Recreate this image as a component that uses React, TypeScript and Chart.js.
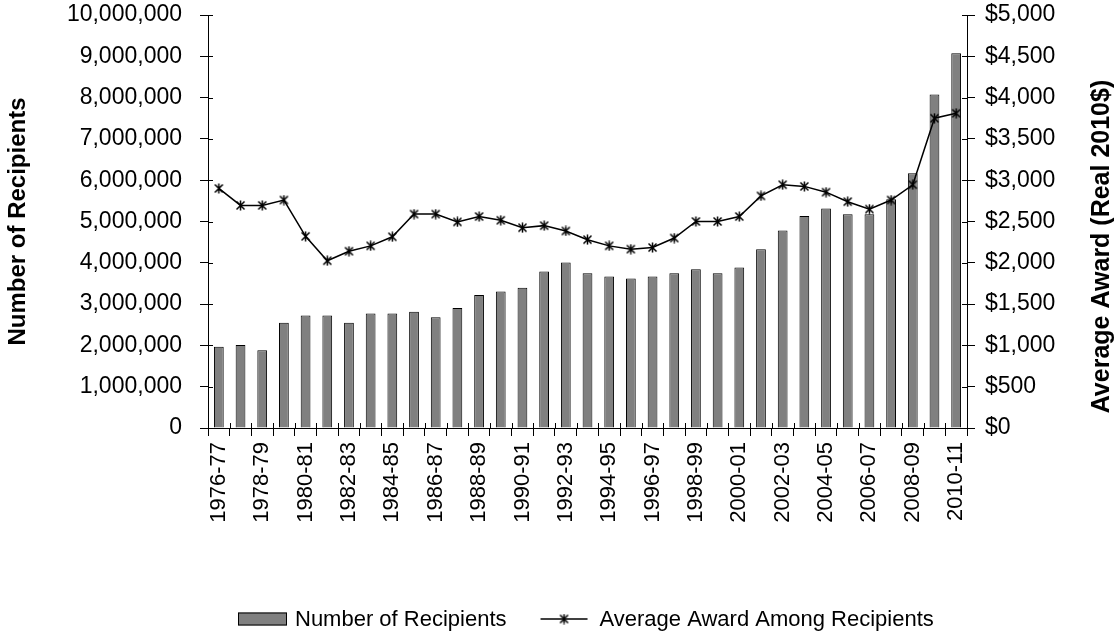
import React, { useEffect, useRef } from 'react';
import { Chart, registerables } from 'chart.js';

Chart.register(...registerables);

const categories = [
  '1976-77', '1977-78', '1978-79', '1979-80', '1980-81', '1981-82', '1982-83',
  '1983-84', '1984-85', '1985-86', '1986-87', '1987-88', '1988-89', '1989-90',
  '1990-91', '1991-92', '1992-93', '1993-94', '1994-95', '1995-96', '1996-97',
  '1997-98', '1998-99', '1999-00', '2000-01', '2001-02', '2002-03', '2003-04',
  '2004-05', '2005-06', '2006-07', '2007-08', '2008-09', '2009-10', '2010-11',
];

const recipients = [
  1970000, 2010000, 1880000, 2550000, 2725000, 2725000, 2550000, 2775000, 2775000, 2815000,
  2680000, 2905000, 3220000, 3305000, 3395000, 3790000, 4010000, 3750000, 3670000, 3620000,
  3670000, 3750000, 3845000, 3750000, 3885000, 4330000, 4780000, 5135000, 5315000, 5175000,
  5175000, 5540000, 6170000, 8075000, 9075000,
];

const averageAward = [
  2900, 2695, 2695, 2760, 2320, 2025, 2140, 2205, 2315, 2590,
  2590, 2495, 2560, 2515, 2425, 2450, 2385, 2280, 2205, 2165,
  2185, 2300, 2500, 2500, 2560, 2810, 2945, 2925, 2855, 2740,
  2650, 2760, 2945, 3750, 3810,
];

const leftAxisTitle = 'Number of Recipients';
const rightAxisTitle = 'Average Award (Real 2010$)';
const barLabel = 'Number of Recipients';
const lineLabel = 'Average Award Among Recipients';

const FONT = 'Liberation Sans, Arial, sans-serif';
const FS = 22;
const TICK_FS = 23;

function makeStar(size: number, lw: number) {
  const c = document.createElement('canvas');
  c.width = size;
  c.height = size;
  const ctx = c.getContext('2d')!;
  ctx.strokeStyle = '#000';
  ctx.lineWidth = lw;
  const m = size / 2;
  const a = 1.5;
  ctx.beginPath();
  ctx.moveTo(m, 0.5);
  ctx.lineTo(m, size - 0.5);
  ctx.moveTo(a, a);
  ctx.lineTo(size - a, size - a);
  ctx.moveTo(size - a, a);
  ctx.lineTo(a, size - a);
  ctx.stroke();
  return c;
}

const rightTitlePlugin = {
  id: 'rightTitle',
  afterDraw(chart: any) {
    const s = chart.scales.y1;
    const ctx = chart.ctx;
    ctx.save();
    ctx.translate(s.right - 18, (s.top + s.bottom) / 2 + 25);
    ctx.rotate(-Math.PI / 2);
    ctx.font = `bold 25px ${FONT}`;
    ctx.fillStyle = '#000';
    ctx.textAlign = 'center';
    ctx.textBaseline = 'middle';
    ctx.fillText(rightAxisTitle, 0, 0);
    ctx.restore();
  },
};

// inner halves of the tick marks (the reference ticks cross the axis lines)
const crossTicksPlugin = {
  id: 'crossTicks',
  beforeDatasetsDraw(chart: any) {
    const ctx = chart.ctx;
    const { y, y1, x } = chart.scales;
    const inner = 5;
    ctx.save();
    ctx.strokeStyle = '#000';
    ctx.lineWidth = 1;
    ctx.beginPath();
    y.ticks.forEach((t: any) => {
      const py = Math.round(y.getPixelForValue(t.value)) + 0.5;
      ctx.moveTo(y.right, py);
      ctx.lineTo(y.right + inner, py);
    });
    y1.ticks.forEach((t: any) => {
      const py = Math.round(y1.getPixelForValue(t.value)) + 0.5;
      ctx.moveTo(y1.left - inner, py);
      ctx.lineTo(y1.left, py);
    });
    const n = categories.length;
    const half = (x.getPixelForValue(1) - x.getPixelForValue(0)) / 2;
    for (let i = 0; i <= n; i++) {
      const px = Math.round(x.getPixelForValue(Math.min(i, n - 1)) + (i === n ? half : -half)) + 0.5;
      ctx.moveTo(px, x.top - inner);
      ctx.lineTo(px, x.top);
    }
    ctx.stroke();
    ctx.restore();
  },
};

const legendPlugin = {
  id: 'customLegend',
  afterDraw(chart: any) {
    const ctx = chart.ctx;
    const bar = chart.data.datasets[1];
    const line = chart.data.datasets[0];
    const cy = chart.height - 17;
    let x = chart.chartArea.left + 30;
    ctx.save();
    ctx.font = `${FS}px ${FONT}`;
    ctx.textBaseline = 'middle';
    ctx.textAlign = 'left';
    ctx.fillStyle = bar.backgroundColor;
    ctx.fillRect(x, cy - 6.5, 49, 13);
    ctx.strokeStyle = bar.borderColor;
    ctx.lineWidth = 1;
    ctx.strokeRect(x + 0.5, cy - 6, 48, 12);
    x += 57;
    ctx.fillStyle = '#000';
    ctx.fillText(bar.label, x, cy + 1);
    x += ctx.measureText(bar.label).width + 34;
    ctx.strokeStyle = line.borderColor;
    ctx.lineWidth = line.borderWidth;
    ctx.beginPath();
    ctx.moveTo(x, cy);
    ctx.lineTo(x + 47, cy);
    ctx.stroke();
    const st = line.pointStyle;
    ctx.drawImage(st, x + 23.5 - st.width / 2, cy - st.height / 2);
    x += 59;
    ctx.fillStyle = '#000';
    ctx.fillText(line.label, x, cy + 1);
    ctx.restore();
  },
};

export default function App() {
  const ref = useRef<HTMLCanvasElement>(null);

  useEffect(() => {
    if (!ref.current) return;
    Chart.defaults.font.family = FONT;
    Chart.defaults.color = '#000';
    const star = makeStar(11, 1.5);
    const gridCommon = { drawOnChartArea: false, color: '#000', tickLength: 8, lineWidth: 1 };

    const chart = new Chart(ref.current, {
      type: 'bar',
      data: {
        labels: categories,
        datasets: [
          {
            type: 'line',
            label: lineLabel,
            data: averageAward,
            yAxisID: 'y1',
            borderColor: '#000',
            backgroundColor: '#000',
            borderWidth: 1.5,
            pointStyle: star as any,
            pointRadius: 5,
            tension: 0,
            order: 0,
          } as any,
          {
            type: 'bar',
            label: barLabel,
            data: recipients,
            yAxisID: 'y',
            backgroundColor: '#808080',
            borderColor: '#000',
            borderWidth: 1,
            barPercentage: 0.45,
            categoryPercentage: 1,
            order: 1,
          },
        ],
      },
      options: {
        animation: false,
        responsive: false,
        maintainAspectRatio: false,
        layout: { padding: { top: 15, left: 0, right: 0, bottom: 0 } },
        plugins: {
          legend: { display: false },
          tooltip: { enabled: false },
        },
        scales: {
          x: {
            grid: { ...gridCommon, offset: true },
            border: { color: '#000', width: 1 },
            ticks: {
              autoSkip: false,
              minRotation: 90,
              maxRotation: 90,
              padding: 6,
              color: '#000',
              font: { size: FS, family: FONT },
              callback: (_v: any, i: number) => (i % 2 === 0 ? categories[i] : ''),
            },
            afterFit: (s: any) => { s.height = 208; },
          },
          y: {
            position: 'left',
            min: 0,
            max: 10000000,
            grid: gridCommon,
            border: { color: '#000', width: 1 },
            ticks: {
              stepSize: 1000000,
              padding: 18,
              color: '#000',
              font: { size: TICK_FS, family: FONT },
              callback: (v: any) => Number(v).toLocaleString('en-US'),
            },
            title: {
              display: true,
              text: leftAxisTitle,
              color: '#000',
              font: { size: 24, weight: 'bold', family: FONT },
              padding: { top: 4, bottom: 0 },
            },
            afterFit: (s: any) => { s.width = 208; s.paddingTop = 12; s.paddingBottom = 12; },
          },
          y1: {
            position: 'right',
            min: 0,
            max: 5000,
            grid: gridCommon,
            border: { color: '#000', width: 1 },
            ticks: {
              stepSize: 500,
              padding: 10,
              color: '#000',
              font: { size: TICK_FS, family: FONT },
              callback: (v: any) => '$' + Number(v).toLocaleString('en-US'),
            },
            afterFit: (s: any) => { s.width = 153; s.paddingTop = 12; s.paddingBottom = 12; },
          },
        },
      } as any,
      plugins: [crossTicksPlugin, rightTitlePlugin, legendPlugin],
    });
    return () => chart.destroy();
  }, []);

  return (
    <div style={{ position: 'fixed', left: 0, top: 0, width: 1120, height: 636, background: '#fff' }}>
      <canvas ref={ref} width={1120} height={636} style={{ display: 'block', width: 1120, height: 636 }} />
    </div>
  );
}
